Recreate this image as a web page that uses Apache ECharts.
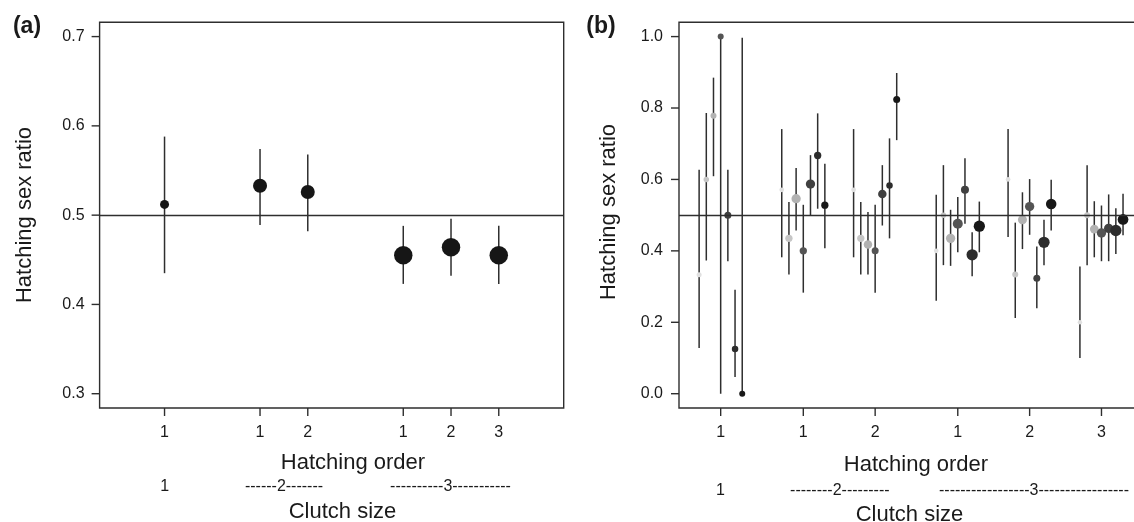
<!DOCTYPE html>
<html>
<head>
<meta charset="utf-8">
<script src="https://cdn.jsdelivr.net/npm/echarts@6/dist/echarts.min.js"></script>
<style>
html,body{margin:0;padding:0;background:#fff;}
#chart{width:1134px;height:522px;}
</style>
</head>
<body>
<div id="chart"></div>
<script>
// ---------- Panel (a) data ----------
const posA = [1, 3, 4, 6, 7, 8];
const tickLabelsA = ['1', '1', '2', '1', '2', '3'];
const meanA = [0.512, 0.533, 0.526, 0.455, 0.464, 0.455];
const lowA  = [0.435, 0.489, 0.482, 0.423, 0.432, 0.423];
const highA = [0.588, 0.574, 0.568, 0.488, 0.496, 0.488];
const sizeA = [9, 14, 14, 18.5, 18.5, 18.5];

// ---------- Panel (b) data ----------
const groupCentersB = [1, 2.15, 3.15, 4.3, 5.3, 6.3];
const tickLabelsB = ['1', '1', '2', '1', '2', '3'];
const yearOffsetsB = [-0.3, -0.2, -0.1, 0, 0.1, 0.2, 0.3];
const yearShadesB = ['#e0e0e0', '#c6c6c6', '#b2b2b2', '#545454', '#404040', '#2c2c2c', '#181818'];
const meanB = [
  [0.333, 0.600, 0.778, 1.000, 0.500, 0.125, 0.000],
  [0.571, 0.435, 0.546, 0.400, 0.587, 0.667, 0.528],
  [0.571, 0.435, 0.418, 0.400, 0.559, 0.583, 0.824],
  [0.400, 0.500, 0.435, 0.476, 0.571, 0.389, 0.469],
  [0.600, 0.334, 0.487, 0.524, 0.323, 0.424, 0.531],
  [0.200, 0.500, 0.461, 0.450, 0.463, 0.457, 0.488]
];
const lowB = [
  [0.128, 0.373, 0.609, 0.000, 0.371, 0.047, 0.000],
  [0.382, 0.334, 0.457, 0.283, 0.499, 0.518, 0.407],
  [0.382, 0.334, 0.334, 0.283, 0.471, 0.435, 0.710],
  [0.260, 0.360, 0.358, 0.396, 0.476, 0.329, 0.396],
  [0.439, 0.212, 0.405, 0.445, 0.239, 0.360, 0.457],
  [0.100, 0.360, 0.382, 0.371, 0.371, 0.391, 0.444]
];
const highB = [
  [0.627, 0.786, 0.885, 1.000, 0.627, 0.291, 0.997],
  [0.741, 0.537, 0.632, 0.529, 0.668, 0.785, 0.644],
  [0.741, 0.537, 0.509, 0.529, 0.640, 0.715, 0.898],
  [0.557, 0.640, 0.515, 0.551, 0.659, 0.452, 0.538],
  [0.741, 0.479, 0.564, 0.601, 0.412, 0.487, 0.599],
  [0.356, 0.640, 0.539, 0.527, 0.558, 0.519, 0.560]
];
const sizeB = [
  [5, 5.5, 6, 6, 7, 6.5, 6],
  [4.7, 7.3, 9.3, 7.3, 9.3, 7.3, 7.3],
  [4.7, 7.3, 8.5, 7, 8.5, 6.5, 7],
  [4.7, 5.5, 9.3, 10, 8, 11.3, 11.3],
  [4.7, 6, 9, 9.3, 7, 11.3, 10.5],
  [4.5, 6, 8.7, 9.3, 9.3, 11.3, 10.7]
];
const yTicksA = [0.3, 0.4, 0.5, 0.6, 0.7];
const yTicksB = [0.0, 0.2, 0.4, 0.6, 0.8, 1.0];

// ---------- axis ranges ----------
const xRangeA = [-0.36, 9.36];
const yRangeA = [0.284, 0.716];
const xRangeB = [0.42, 0.42 + 464 / 71.85];
const yRangeB = [-0.04, 1.04];

// ---------- build ----------
const FONT = "'Liberation Sans', Arial, sans-serif";
const INK = '#1a1a1a';
const LINE = '#2e2e2e';
const TICK_LEN = 8;

const barsA = posA.map((x, i) => [x, lowA[i], highA[i]]);
const ptsA = posA.map((x, i) => ({ value: [x, meanA[i]], symbolSize: sizeA[i], itemStyle: { color: '#161616', opacity: 1 } }));

const barsB = [], ptsB = [];
groupCentersB.forEach((c, g) => {
  yearOffsetsB.forEach((o, k) => {
    const x = c + o;
    barsB.push([x, lowB[g][k], highB[g][k]]);
    ptsB.push({ value: [x, meanB[g][k]], symbolSize: sizeB[g][k], itemStyle: { color: yearShadesB[k], opacity: 1 } });
  });
});

function errRender(params, api) {
  const x = api.value(0);
  const p1 = api.coord([x, api.value(1)]);
  const p2 = api.coord([x, api.value(2)]);
  return { type: 'line', shape: { x1: p1[0], y1: p1[1], x2: p2[0], y2: p2[1] },
           style: { stroke: '#2e2e2e', lineWidth: 1.5 } };
}

function lookup(centers, labels) {
  return function (v) {
    for (let i = 0; i < centers.length; i++) if (Math.abs(centers[i] - v) < 1e-6) return labels[i];
    return '';
  };
}

// tick marks are carried by the axis labels themselves (a small filled box next to each label)
function xAxisCfg(grid, range, centers, labels) {
  const name = lookup(centers, labels);
  return {
    type: 'value', gridIndex: grid, min: range[0], max: range[1], position: 'bottom',
    axisLine: { show: false, onZero: false }, splitLine: { show: false },
    axisTick: { show: false },
    axisLabel: {
      show: true, customValues: centers, margin: 0,
      formatter: v => '{t|}\n{n|' + name(v) + '}',
      fontSize: 16, color: INK, fontFamily: FONT,
      rich: {
        t: { width: 1.4, height: TICK_LEN, lineHeight: TICK_LEN, backgroundColor: LINE, align: 'center' },
        n: { fontSize: 16, lineHeight: 34, color: INK, fontFamily: FONT, align: 'center' }
      }
    }
  };
}
function yAxisCfg(grid, range, ticks, decimals, gap) {
  return {
    type: 'value', gridIndex: grid, min: range[0], max: range[1], position: 'left',
    axisLine: { show: false, onZero: false }, splitLine: { show: false },
    axisTick: { show: false },
    axisLabel: {
      show: true, customValues: ticks, margin: 0,
      formatter: v => '{n|' + Number(v).toFixed(decimals) + '}{g|}{t|}',
      fontSize: 16, color: INK, fontFamily: FONT,
      rich: {
        n: { fontSize: 16, color: INK, fontFamily: FONT },
        g: { width: gap, height: 1 },
        t: { width: TICK_LEN, height: 1.4, backgroundColor: LINE }
      }
    }
  };
}

const refLine = {
  silent: true, symbol: 'none', label: { show: false },
  lineStyle: { color: LINE, width: 1.4, type: 'solid' },
  data: [{ yAxis: 0.5 }]
};

function txt(x, y, s, size, opts) {
  return Object.assign({
    type: 'text', x: x, y: y,
    style: { text: s, fontSize: size, fontFamily: FONT, fill: INK, align: 'center', verticalAlign: 'middle' }
  }, opts || {});
}
function boldTxt(x, y, s, size) {
  return { type: 'text', x: x, y: y,
    style: { text: s, fontSize: size, fontWeight: 'bold', fontFamily: FONT, fill: INK, align: 'center', verticalAlign: 'middle' } };
}

const texts = [
  boldTxt(27, 27, '(a)', 23),
  boldTxt(601, 27, '(b)', 23),
  txt(25, 215, 'Hatching sex ratio', 22, { rotation: Math.PI / 2 }),
  txt(609, 212, 'Hatching sex ratio', 22, { rotation: Math.PI / 2 }),
  txt(353, 463, 'Hatching order', 22),
  txt(916, 465, 'Hatching order', 22),
  txt(164.6, 487, '1', 16),
  txt(284, 487, '------2-------', 16),
  txt(450.5, 487, '----------3-----------', 16),
  txt(720.4, 491, '1', 16),
  txt(839.8, 491, '--------2---------', 16),
  txt(1034, 491, '-----------------3-----------------', 16),
  txt(342.5, 512, 'Clutch size', 22),
  txt(909.5, 515, 'Clutch size', 22)
];

const chart = echarts.init(document.getElementById('chart'), null, { renderer: 'canvas' });
chart.setOption({
  backgroundColor: '#fff',
  animation: false,
  grid: [
    { left: 99.6, top: 22.3, width: 464.1, height: 385.7, show: true, borderColor: LINE, borderWidth: 1.4, backgroundColor: 'transparent', outerBoundsMode: 'none', containLabel: false },
    { left: 679, top: 22.3, width: 464, height: 385.7, show: true, borderColor: LINE, borderWidth: 1.4, backgroundColor: 'transparent', outerBoundsMode: 'none', containLabel: false }
  ],
  xAxis: [
    xAxisCfg(0, xRangeA, posA, tickLabelsA),
    xAxisCfg(1, xRangeB, groupCentersB, tickLabelsB)
  ],
  yAxis: [
    yAxisCfg(0, yRangeA, yTicksA, 1, 7),
    yAxisCfg(1, yRangeB, yTicksB, 1, 8)
  ],
  series: [
    { type: 'custom', xAxisIndex: 0, yAxisIndex: 0, data: barsA, renderItem: errRender, encode: { x: 0, y: [1, 2] }, z: 2, silent: true,
      markLine: refLine },
    { type: 'scatter', xAxisIndex: 0, yAxisIndex: 0, data: ptsA, symbol: 'circle', z: 3, silent: true, itemStyle: { opacity: 1 } },
    { type: 'custom', xAxisIndex: 1, yAxisIndex: 1, data: barsB, renderItem: errRender, encode: { x: 0, y: [1, 2] }, z: 2, silent: true,
      markLine: refLine },
    { type: 'scatter', xAxisIndex: 1, yAxisIndex: 1, data: ptsB, symbol: 'circle', z: 3, silent: true, itemStyle: { opacity: 1 } }
  ],
  graphic: { elements: texts }
});
</script>
</body>
</html>
